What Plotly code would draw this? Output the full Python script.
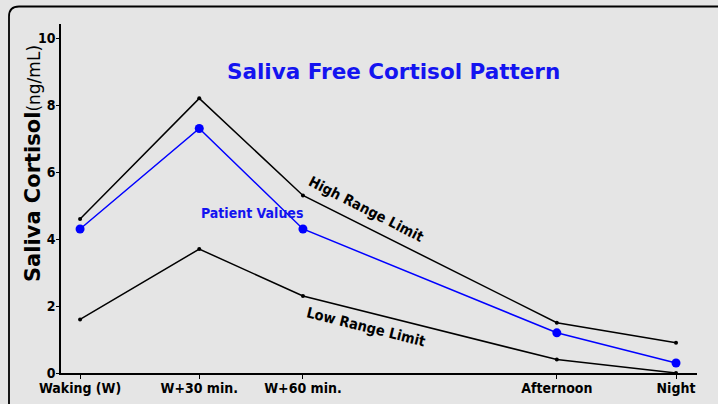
import plotly.graph_objects as go

categories = ["Waking (W)", "W+30 min.", "W+60 min.", "Afternoon", "Night"]
x_pos = [0, 1, 1.87, 4, 5]
high_range = [4.6, 8.2, 5.3, 1.5, 0.9]
patient = [4.3, 7.3, 4.3, 1.2, 0.3]
low_range = [1.6, 3.7, 2.3, 0.4, 0.0]
y_ticks = [0, 2, 4, 6, 8, 10]

BG = "#e5e5e5"
COND = "DejaVu Sans Condensed, DejaVu Sans, sans-serif"
SANS = "DejaVu Sans, sans-serif"

fig = go.Figure()
fig.add_trace(go.Scatter(x=x_pos, y=high_range, mode="lines+markers",
                         line=dict(color="black", width=1.5),
                         marker=dict(color="black", size=4), name="High", cliponaxis=False))
fig.add_trace(go.Scatter(x=x_pos, y=low_range, mode="lines+markers",
                         line=dict(color="black", width=1.5),
                         marker=dict(color="black", size=4), name="Low", cliponaxis=False))
fig.add_trace(go.Scatter(x=x_pos, y=patient, mode="lines+markers",
                         line=dict(color="#0000ff", width=1.5),
                         marker=dict(color="#0000ff", size=9), name="Patient", cliponaxis=False))

W, H = 718, 404
L, R, T, B = 61, 21, 24, 31
pw, ph = W - L - R, H - T - B

def px(x):
    return (x - L) / pw

def py(y):
    return (H - B - y) / ph

r = 10
lx, ty = 9, 6.5
path = (f"M {px(lx)},{py(420)} L {px(lx)},{py(ty + r)} "
        f"Q {px(lx)},{py(ty)} {px(lx + r)},{py(ty)} L {px(740)},{py(ty)}")

tickfont = dict(family=COND, size=14, color="black", weight="bold")

fig.update_layout(
    width=W, height=H,
    margin=dict(l=L, r=R, t=T, b=B, autoexpand=False),
    paper_bgcolor=BG, plot_bgcolor=BG,
    showlegend=False,
    xaxis=dict(range=[-0.16, 5.176], tickmode="array", tickvals=x_pos, ticktext=categories,
               showline=True, linecolor="black", linewidth=1.5, ticks="outside",
               ticklen=4, tickcolor="black", tickwidth=1, showgrid=False, zeroline=False,
               tickfont=tickfont, automargin=False, ticklabelstandoff=-3),
    yaxis=dict(range=[0, 10.42], tickmode="array", tickvals=y_ticks,
               showline=True, linecolor="black", linewidth=1.5, ticks="outside",
               ticklen=3, tickcolor="black", tickwidth=1, showgrid=False, zeroline=False,
               tickfont=tickfont, automargin=False, ticklabelstandoff=-2),
    shapes=[dict(type="path", xref="paper", yref="paper", path=path,
                 line=dict(color="black", width=1.8), layer="above")],
)

fig.add_annotation(x=px(393), y=py(72), xref="paper", yref="paper",
                   xanchor="center", yanchor="middle",
                   text="<b>Saliva Free Cortisol Pattern</b>", showarrow=False,
                   font=dict(family=SANS, size=21.5, color="#1414f0"))
fig.add_annotation(x=px(33), y=py(164), xref="paper", yref="paper", textangle=-90,
                   xanchor="center", yanchor="middle",
                   text="<b>Saliva Cortisol</b><span style='font-size:17px'>(ng/mL)</span>",
                   showarrow=False, font=dict(family=SANS, size=21, color="black"))
fig.add_annotation(x=2.40, y=4.90, text="<b>High Range Limit</b>", showarrow=False,
                   xanchor="center", yanchor="middle",
                   textangle=27, font=dict(family=COND, size=14.5, color="black"))
fig.add_annotation(x=2.40, y=1.36, text="<b>Low Range Limit</b>", showarrow=False,
                   xanchor="center", yanchor="middle",
                   textangle=14, font=dict(family=COND, size=14.5, color="black"))
fig.add_annotation(x=1.44, y=4.78, text="<b>Patient Values</b>", showarrow=False,
                   xanchor="center", yanchor="middle",
                   font=dict(family=COND, size=14, color="#1414f0"))

fig.write_html("out.html", config={"displayModeBar": False},
               post_script="document.body.style.margin='0';")
